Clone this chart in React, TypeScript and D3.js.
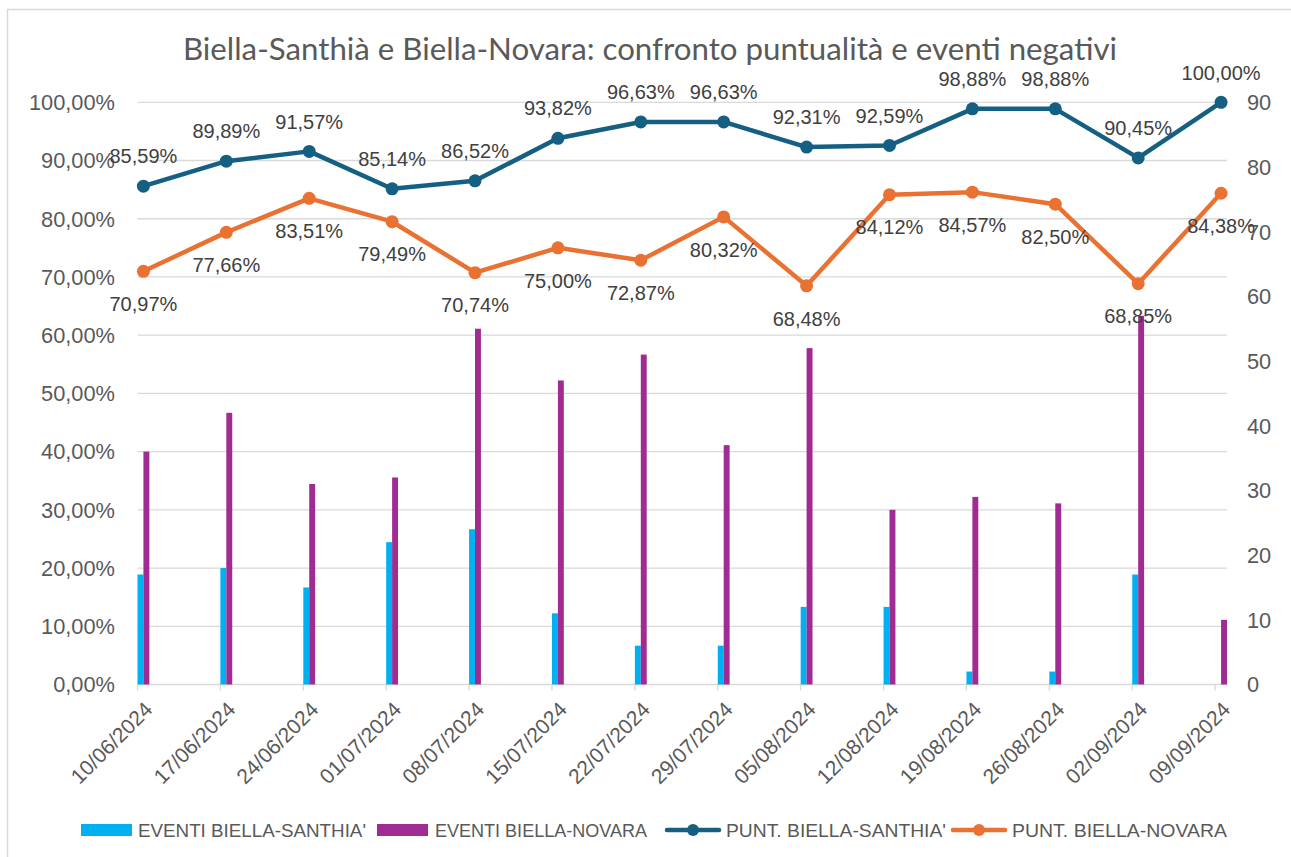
import React from "react";
import * as d3 from "d3";

const dates = ["10/06/2024","17/06/2024","24/06/2024","01/07/2024","08/07/2024","15/07/2024","22/07/2024","29/07/2024","05/08/2024","12/08/2024","19/08/2024","26/08/2024","02/09/2024","09/09/2024"];
const eventiSanthia = [17,18,15,22,24,11,6,6,12,12,2,2,17,0];
const eventiNovara = [36,42,31,32,55,47,51,37,52,27,29,28,57,10];
const puntSanthia = [0.8559,0.8989,0.9157,0.8514,0.8652,0.9382,0.9663,0.9663,0.9231,0.9259,0.9888,0.9888,0.9045,1.0];
const puntNovara = [0.7097,0.7766,0.8351,0.7949,0.7074,0.75,0.7287,0.8032,0.6848,0.8412,0.8457,0.825,0.6885,0.8438];
const leftTicks = [0,0.1,0.2,0.3,0.4,0.5,0.6,0.7,0.8,0.9,1.0];
const rightTicks = [0,10,20,30,40,50,60,70,80,90];
const title = "Biella-Santhià e Biella-Novara: confronto puntualità e eventi negativi";
const legendLabels = ["EVENTI BIELLA-SANTHIA'","EVENTI BIELLA-NOVARA","PUNT. BIELLA-SANTHIA'","PUNT. BIELLA-NOVARA"];

const C_BLUE = "#00B0F0";
const C_PURPLE = "#A02B93";
const C_DARK = "#156082";
const C_ORANGE = "#E97132";
const C_GRID = "#D9D9D9";
const C_TEXT = "#595959";
const FONT = "'Liberation Sans', Arial, sans-serif";

const parse = d3.timeParse("%d/%m/%Y");
const it = d3.formatLocale({ decimal: ",", thousands: ".", grouping: [3], currency: ["", "€"] });
const fmtPct = it.format(".2%");

export default function App() {
  const W = 1291, H = 857;
  const left = 137.5, right = 1227, top = 102.3, bottom = 684.5;
  const parsed = dates.map((d) => parse(d) as Date);
  const x = d3.scaleTime()
    .domain([parsed[0], d3.timeDay.offset(parsed[parsed.length - 1], 1)])
    .range([left, right]);
  const yL = d3.scaleLinear().domain([0, 1]).range([bottom, top]);
  const yR = d3.scaleLinear().domain([0, 90]).range([bottom, top]);
  const dayW = x(d3.timeDay.offset(parsed[0], 1)) - x(parsed[0]);
  const mid = (d: Date) => x(d3.timeHour.offset(d, 12));

  const line = d3.line<number>().x((_, i) => mid(parsed[i])).y((v) => yL(v));

  const legendItems = [
    { type: "rect", color: C_BLUE, sx: 81, tx: 138, tw: 228 },
    { type: "rect", color: C_PURPLE, sx: 377, tx: 435, tw: 212 },
    { type: "line", color: C_DARK, sx: 667, tx: 726, tw: 220 },
    { type: "line", color: C_ORANGE, sx: 953, tx: 1012, tw: 215 },
  ];
  const ly = 830;

  return (
    <svg width={W} height={H} style={{ position: "absolute", left: 0, top: 0, background: "#fff" }} fontFamily={FONT}>
      <rect x={7.5} y={9.5} width={W + 20} height={H + 20} fill="#fff" stroke={C_GRID} strokeWidth={1.5} />
      <text x={650} y={60} textAnchor="middle" fontSize={30} fill={C_TEXT} fontFamily="Lato, 'Noto Sans', sans-serif" textLength={934} lengthAdjust="spacingAndGlyphs">{title}</text>

      {leftTicks.map((t) => (
        <g key={"g" + t}>
          <line x1={left} x2={right} y1={yL(t)} y2={yL(t)} stroke={C_GRID} strokeWidth={1.3} />
          <text x={115} y={yL(t)} dy="0.36em" textAnchor="end" fontSize={21.8} fill={C_TEXT}>{fmtPct(t)}</text>
        </g>
      ))}
      {rightTicks.map((t) => (
        <text key={"r" + t} x={1247} y={yR(t)} dy="0.36em" textAnchor="start" fontSize={21.8} fill={C_TEXT}>{t}</text>
      ))}

      {parsed.map((d, i) => (
        <g key={"x" + i}>
          <line x1={x(d)} x2={x(d)} y1={bottom} y2={bottom + 6} stroke={C_GRID} strokeWidth={1.3} />
          <text transform={`translate(${x(d) + 11},${bottom + 21}) rotate(-45)`} textAnchor="end" dy="0.36em" fontSize={21} fill={C_TEXT}>{dates[i]}</text>
        </g>
      ))}

      {parsed.map((d, i) => (
        <g key={"b" + i}>
          <rect x={x(d)} y={yR(eventiSanthia[i])} width={dayW / 2} height={bottom - yR(eventiSanthia[i])} fill={C_BLUE} />
          <rect x={x(d) + dayW / 2} y={yR(eventiNovara[i])} width={dayW / 2} height={bottom - yR(eventiNovara[i])} fill={C_PURPLE} />
        </g>
      ))}

      <path d={line(puntSanthia) || ""} fill="none" stroke={C_DARK} strokeWidth={4.5} strokeLinejoin="round" />
      <path d={line(puntNovara) || ""} fill="none" stroke={C_ORANGE} strokeWidth={4.5} strokeLinejoin="round" />
      {parsed.map((d, i) => (
        <g key={"m" + i}>
          <circle cx={mid(d)} cy={yL(puntSanthia[i])} r={6.5} fill={C_DARK} />
          <circle cx={mid(d)} cy={yL(puntNovara[i])} r={6.5} fill={C_ORANGE} />
        </g>
      ))}
      {parsed.map((d, i) => (
        <g key={"l" + i}>
          <text x={mid(d)} y={yL(puntSanthia[i]) - 30} dy="0.36em" textAnchor="middle" fontSize={20} fill="#404040">{fmtPct(puntSanthia[i])}</text>
          <text x={mid(d)} y={yL(puntNovara[i]) + 32.5} dy="0.36em" textAnchor="middle" fontSize={20} fill="#404040">{fmtPct(puntNovara[i])}</text>
        </g>
      ))}

      {legendItems.map((it2, i) => (
        <g key={"lg" + i}>
          {it2.type === "rect" ? (
            <rect x={it2.sx} y={ly - 6} width={51} height={12} fill={it2.color} />
          ) : (
            <g>
              <line x1={it2.sx} x2={it2.sx + 52} y1={ly} y2={ly} stroke={it2.color} strokeWidth={4.5} strokeLinecap="round" />
              <circle cx={it2.sx + 26} cy={ly} r={6} fill={it2.color} />
            </g>
          )}
          <text x={it2.tx} y={ly} dy="0.36em" fontSize={18.5} fill={C_TEXT} textLength={it2.tw} lengthAdjust="spacingAndGlyphs">{legendLabels[i]}</text>
        </g>
      ))}
    </svg>
  );
}
